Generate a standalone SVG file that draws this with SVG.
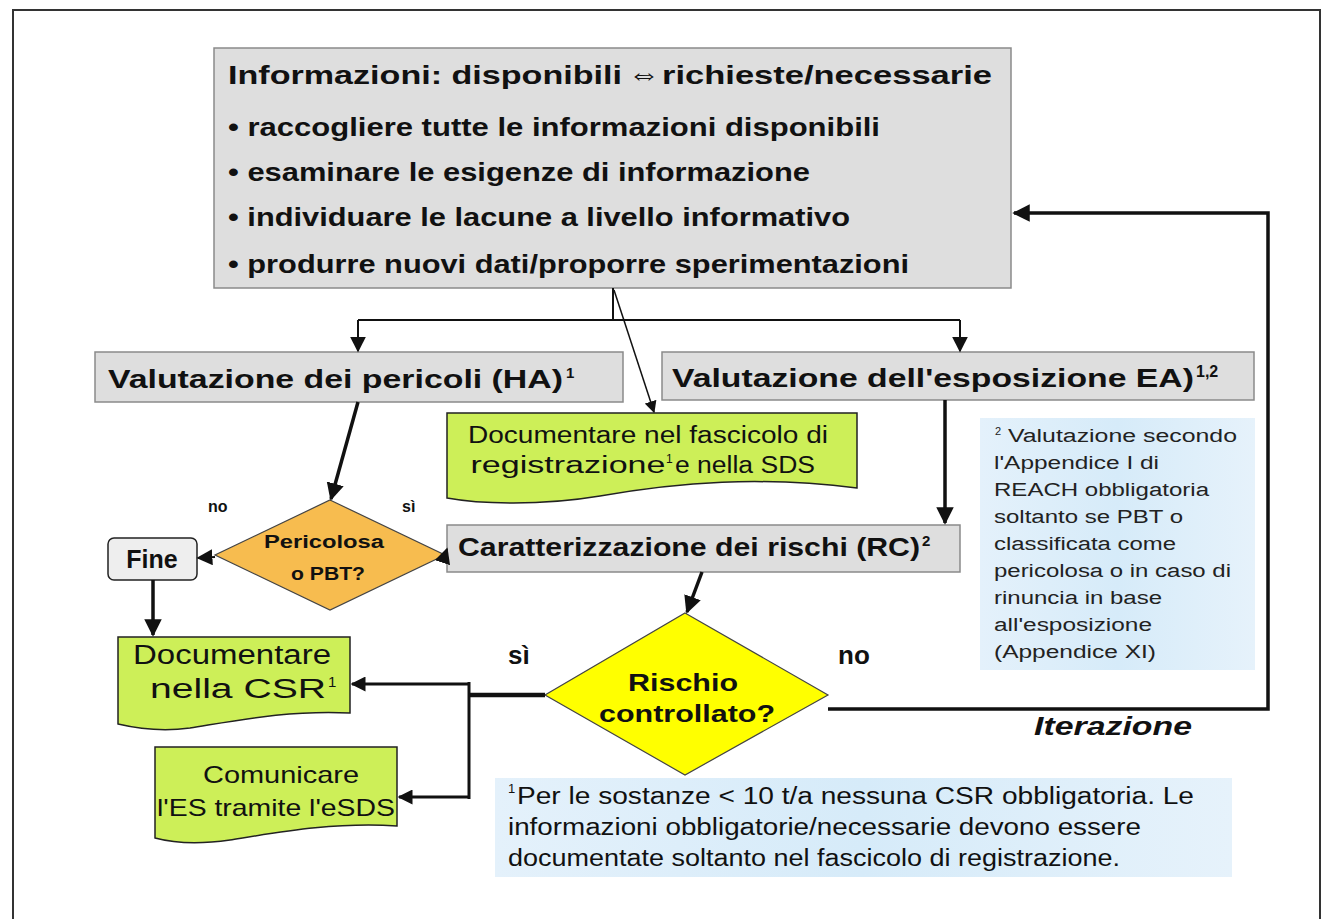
<svg xmlns="http://www.w3.org/2000/svg" width="1325" height="919" viewBox="0 0 1325 919">
<defs>
<marker id="ah" viewBox="0 0 10 10" refX="9" refY="5" markerWidth="5" markerHeight="5" orient="auto" markerUnits="strokeWidth"><path d="M0,0 L10,5 L0,10 z" fill="#111"/></marker>
<marker id="ahs" viewBox="0 0 10 10" refX="9" refY="5" markerWidth="8" markerHeight="8" orient="auto" markerUnits="strokeWidth"><path d="M0,0 L10,5 L0,10 z" fill="#111"/></marker>
<linearGradient id="blue" x1="0" y1="0" x2="1" y2="0"><stop offset="0" stop-color="#e4f1fb"/><stop offset="0.5" stop-color="#d6ebf9"/><stop offset="1" stop-color="#e6f2fb"/></linearGradient>
<style>
.gray{fill:#dedede;stroke:#8a8a8a;stroke-width:1.5}
.green{fill:#cdef58;stroke:#222;stroke-width:1.5}
.note{fill:url(#blue);stroke:none}
.t{font-family:"Liberation Sans",Arial,sans-serif;fill:#111}
.b{font-weight:bold}
.c{stroke:#111;fill:none}
.n2{font-family:"Liberation Sans",Arial,sans-serif;fill:#222;font-size:18px}
</style>
</defs>
<rect x="0" y="0" width="1325" height="919" fill="#ffffff"/>
<rect x="13" y="10" width="1307" height="920" fill="none" stroke="#333" stroke-width="2"/>

<g id="info">
<rect class="gray" x="214" y="48" width="797" height="240"/>
<text class="t b" x="228" y="84" font-size="26" textLength="394" lengthAdjust="spacingAndGlyphs">Informazioni: disponibili</text>
<text class="t" x="628" y="84" font-size="30" textLength="32" lengthAdjust="spacingAndGlyphs">⇔</text>
<text class="t b" x="662" y="84" font-size="26" textLength="330" lengthAdjust="spacingAndGlyphs">richieste/necessarie</text>
<text class="t b" x="228" y="136" font-size="26" textLength="652" lengthAdjust="spacingAndGlyphs">• raccogliere tutte  le informazioni disponibili</text>
<text class="t b" x="228" y="181" font-size="26" textLength="582" lengthAdjust="spacingAndGlyphs">• esaminare le esigenze di informazione</text>
<text class="t b" x="228" y="226" font-size="26" textLength="622" lengthAdjust="spacingAndGlyphs">• individuare le lacune a livello informativo</text>
<text class="t b" x="228" y="273" font-size="26" textLength="681" lengthAdjust="spacingAndGlyphs">• produrre nuovi dati/proporre sperimentazioni</text>
</g>

<g id="ha">
<rect class="gray" x="95" y="352" width="528" height="50"/>
<text class="t b" x="108" y="388" font-size="26" textLength="455" lengthAdjust="spacingAndGlyphs">Valutazione dei pericoli (HA)</text>
<text class="t b" x="566" y="378" font-size="15">1</text>
</g>

<g id="ea">
<rect class="gray" x="662" y="352" width="592" height="48"/>
<text class="t b" x="672" y="387" font-size="26" textLength="522" lengthAdjust="spacingAndGlyphs">Valutazione dell'esposizione EA)</text>
<text class="t b" x="1196" y="377" font-size="16">1,2</text>
</g>

<g id="doc-reg">
<path class="green" d="M447,413 H857 V488 C760,476 680,482 600,496 C540,506 480,504 447,498 Z"/>
<text class="t" x="648" y="443" font-size="23" text-anchor="middle" textLength="360" lengthAdjust="spacingAndGlyphs">Documentare nel fascicolo di</text>
<text class="t" x="568" y="473" font-size="23" text-anchor="middle" textLength="195" lengthAdjust="spacingAndGlyphs">registrazione</text>
<text class="t" x="666" y="463" font-size="12">1</text>
<text class="t" x="745" y="473" font-size="23" text-anchor="middle" textLength="140" lengthAdjust="spacingAndGlyphs">e nella SDS</text>
</g>

<g id="pbt">
<polygon points="330,500 445,555 330,610 215,555" fill="#f7bc4f" stroke="#444" stroke-width="1.2"/>
<text class="t b" x="324" y="548" font-size="18" text-anchor="middle" fill="#3a2a10" textLength="120" lengthAdjust="spacingAndGlyphs">Pericolosa</text>
<text class="t b" x="328" y="580" font-size="18" text-anchor="middle" fill="#3a2a10" textLength="74" lengthAdjust="spacingAndGlyphs">o PBT?</text>
</g>
<text class="t b" x="208" y="512" font-size="16">no</text>
<text class="t b" x="402" y="512" font-size="16">sì</text>

<g id="fine">
<rect x="108" y="538" width="89" height="42" rx="6" fill="#eeeeee" stroke="#222" stroke-width="1.5"/>
<text class="t b" x="152" y="568" font-size="25" text-anchor="middle">Fine</text>
</g>

<g id="rc">
<rect class="gray" x="447" y="525" width="513" height="47"/>
<text class="t b" x="458" y="556" font-size="25" textLength="462" lengthAdjust="spacingAndGlyphs">Caratterizzazione dei rischi (RC)</text>
<text class="t b" x="922" y="546" font-size="15">2</text>
</g>

<g id="rischio">
<polygon points="685,613 828,695 685,775 545,695" fill="#ffff00" stroke="#444" stroke-width="1.2"/>
<text class="t b" x="683" y="691" font-size="24" text-anchor="middle" textLength="110" lengthAdjust="spacingAndGlyphs">Rischio</text>
<text class="t b" x="687" y="722" font-size="24" text-anchor="middle" textLength="176" lengthAdjust="spacingAndGlyphs">controllato?</text>
</g>
<text class="t b" x="508" y="664" font-size="26">sì</text>
<text class="t b" x="838" y="664" font-size="26">no</text>
<text class="t b" x="1034" y="735" font-size="26" font-style="italic" textLength="158" lengthAdjust="spacingAndGlyphs">Iterazione</text>

<g id="csr">
<path class="green" d="M118,637 H350 V713 C290,710 240,720 190,728 C160,732 135,728 118,724 Z"/>
<text class="t" x="232" y="664" font-size="27" text-anchor="middle" textLength="198" lengthAdjust="spacingAndGlyphs">Documentare</text>
<text class="t" x="150" y="698" font-size="27" textLength="176" lengthAdjust="spacingAndGlyphs">nella  CSR</text>
<text class="t" x="328" y="687" font-size="15">1</text>
</g>

<g id="esds">
<path class="green" d="M155,747 H397 V826 C335,822 280,832 230,840 C195,845 170,842 155,838 Z"/>
<text class="t" x="281" y="783" font-size="24" text-anchor="middle" textLength="156" lengthAdjust="spacingAndGlyphs">Comunicare</text>
<text class="t" x="276" y="816" font-size="24" text-anchor="middle" textLength="238" lengthAdjust="spacingAndGlyphs">l'ES tramite l'eSDS</text>
</g>

<g id="note2">
<rect class="note" x="980" y="418" width="275" height="252"/>
<text class="n2" x="995" y="435" style="font-size:11px">2</text>
<text class="n2" x="1008" y="442" textLength="229" lengthAdjust="spacingAndGlyphs">Valutazione secondo</text>
<text class="n2" x="994" y="469" textLength="165" lengthAdjust="spacingAndGlyphs">l'Appendice I di</text>
<text class="n2" x="994" y="496" textLength="215" lengthAdjust="spacingAndGlyphs">REACH obbligatoria</text>
<text class="n2" x="994" y="523" textLength="189" lengthAdjust="spacingAndGlyphs">soltanto se PBT o</text>
<text class="n2" x="994" y="550" textLength="182" lengthAdjust="spacingAndGlyphs">classificata come</text>
<text class="n2" x="994" y="577" textLength="237" lengthAdjust="spacingAndGlyphs">pericolosa o in caso di</text>
<text class="n2" x="994" y="604" textLength="168" lengthAdjust="spacingAndGlyphs">rinuncia in base</text>
<text class="n2" x="994" y="631" textLength="158" lengthAdjust="spacingAndGlyphs">all'esposizione</text>
<text class="n2" x="994" y="658" textLength="162" lengthAdjust="spacingAndGlyphs">(Appendice XI)</text>
</g>

<g id="note1">
<rect class="note" x="495" y="778" width="737" height="99"/>
<text class="t" x="508" y="793" font-size="13" fill="#222">1</text>
<text class="t" x="517" y="804" font-size="23" fill="#222" textLength="677" lengthAdjust="spacingAndGlyphs">Per le sostanze &lt; 10 t/a nessuna CSR obbligatoria. Le</text>
<text class="t" x="508" y="835" font-size="23" fill="#222" textLength="633" lengthAdjust="spacingAndGlyphs">informazioni obbligatorie/necessarie devono essere</text>
<text class="t" x="508" y="866" font-size="23" fill="#222" textLength="612" lengthAdjust="spacingAndGlyphs">documentate soltanto nel fascicolo di registrazione.</text>
</g>

<g id="connectors">
<path class="c" stroke-width="2" d="M613,288 V320"/>
<path class="c" stroke-width="2" d="M358,320 H960"/>
<path class="c" stroke-width="2" marker-end="url(#ahs)" d="M358,320 V351"/>
<path class="c" stroke-width="2" marker-end="url(#ahs)" d="M960,320 V351"/>
<path class="c" stroke-width="1.5" marker-end="url(#ahs)" d="M614,290 L654,412"/>
<path class="c" stroke-width="3.5" marker-end="url(#ah)" d="M358,402 L331,499"/>
<path class="c" stroke-width="2" marker-end="url(#ahs)" d="M215,557 L198,558"/>
<path class="c" stroke-width="2" marker-end="url(#ahs)" d="M445,555 L447,549"/>
<path class="c" stroke-width="3.5" marker-end="url(#ah)" d="M945,400 V523"/>
<path class="c" stroke-width="3.5" marker-end="url(#ah)" d="M153,580 V635"/>
<path class="c" stroke-width="3.5" marker-end="url(#ah)" d="M702,572 L687,612"/>
<path class="c" stroke-width="4.5" d="M545,695 H469"/>
<path class="c" stroke-width="3" marker-end="url(#ah)" d="M469,684 H352"/>
<path class="c" stroke-width="3" marker-end="url(#ah)" d="M469,797 H399"/>
<path class="c" stroke-width="3" d="M469,682 V799"/>
<path class="c" stroke-width="3.5" marker-end="url(#ah)" d="M828,709 H1268 V213 H1014"/>
</g>
</svg>
